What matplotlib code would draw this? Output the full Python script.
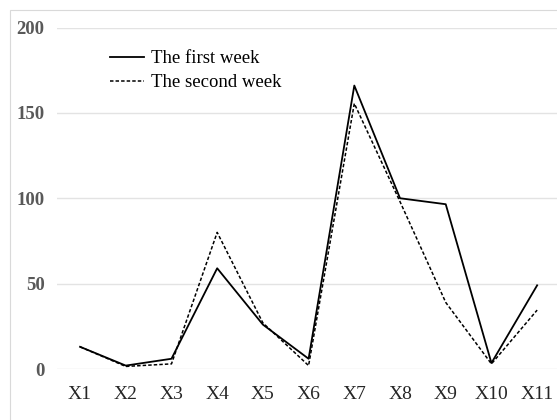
import matplotlib
matplotlib.use("Agg")
import matplotlib.pyplot as plt
from matplotlib.patches import Rectangle

categories = ["X1", "X2", "X3", "X4", "X5", "X6", "X7", "X8", "X9", "X10", "X11"]
first_week = [13, 2, 6, 59, 26, 6, 166, 100, 96.5, 3.5, 49]
second_week = [13, 1.5, 3, 80, 27, 2, 155.5, 98, 39, 3, 34.5]
yticks = [0, 50, 100, 150, 200]

plt.rcParams['font.family'] = ['Liberation Serif', 'DejaVu Serif']
plt.rcParams['lines.scale_dashes'] = False

W, H = 557, 420
fig = plt.figure(figsize=(W / 100, H / 100), dpi=100)

# chart-area border
fig.patches.append(Rectangle((10 / W, 0 - 0.05), 1.2, (H - 9.5) / H + 0.05,
                             transform=fig.transFigure, fill=False,
                             edgecolor='#d9d9d9', linewidth=0.8))

left = 57.2 / W
right = 560.0 / W
bottom = (H - 369) / H
top = (H - 27.5) / H
ax = fig.add_axes([left, bottom, right - left, top - bottom])

x = list(range(len(categories)))
ax.plot(x, first_week, color='black', linewidth=1.3, label='The first week',
        clip_on=False, zorder=3)
ax.plot(x, second_week, color='black', linewidth=1.1, dashes=[2.5, 1.5],
        label='The second week', clip_on=False, zorder=3)

ax.set_xlim(-0.5, len(categories) - 0.5)
ax.set_ylim(0, 200)
ax.set_yticks(yticks)
ax.set_yticklabels([str(v) for v in yticks], fontsize=13.5, fontweight='bold',
                   color='#595959')
ax.set_xticks(x)
ax.set_xticklabels(categories, fontsize=14, color='#262626')
ax.tick_params(axis='both', length=0)
ax.tick_params(axis='y', pad=9)
ax.tick_params(axis='x', pad=12)

for s in ax.spines.values():
    s.set_visible(False)
ax.grid(axis='y', color='#e3e3e3', linewidth=1.0)
ax.set_axisbelow(True)

leg = ax.legend(loc='upper left', bbox_to_anchor=(110 / W, 1 - 50 / H),
                bbox_transform=fig.transFigure, frameon=False, fontsize=13.5,
                handlelength=1.8, handletextpad=0.4, borderpad=0,
                borderaxespad=0, labelspacing=0.38)

fig.savefig('out.png', dpi=100)
